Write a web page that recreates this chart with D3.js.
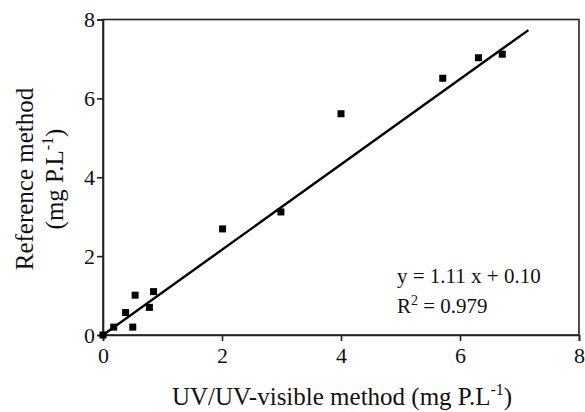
<!DOCTYPE html>
<html><head><meta charset="utf-8">
<script src="https://cdn.jsdelivr.net/npm/d3@7"></script>
<style>body{margin:0;background:#fff}svg{display:block}text{font-family:"Liberation Serif","Times New Roman",serif;fill:#111}</style>
</head><body><svg width="585" height="412"></svg>
<script>
const xValues = [0, 0.18, 0.38, 0.50, 0.54, 0.78, 0.85, 2.01, 2.99, 4.0, 5.71, 6.31, 6.71];
const yValues = [0, 0.20, 0.57, 0.20, 1.01, 0.70, 1.10, 2.69, 3.12, 5.61, 6.51, 7.03, 7.12];
const lineX = [0, 7.15];
const lineY = [0, 7.73];
const xTicks = [0, 2, 4, 6, 8];
const yTicks = [0, 2, 4, 6, 8];

const svg = d3.select("svg");
const x = d3.scaleLinear().domain([0, 8]).range([103, 579]);
const y = d3.scaleLinear().domain([0, 8]).range([335, 19.5]);

svg.append("rect").attr("x", x(0)).attr("y", y(8)).attr("width", x(8)-x(0)).attr("height", y(0)-y(8))
  .attr("fill", "none").attr("stroke", "#222").attr("stroke-width", 1.6);

const xa = svg.append("g").attr("transform", `translate(0,${y(0)})`)
  .call(d3.axisBottom(x).tickValues(xTicks).tickFormat(d3.format("d")).tickSize(6).tickPadding(6));
const ya = svg.append("g").attr("transform", `translate(${x(0)},0)`)
  .call(d3.axisLeft(y).tickValues(yTicks).tickFormat(d3.format("d")).tickSize(6).tickPadding(2));
[xa, ya].forEach(a => {
  a.select(".domain").attr("stroke", "#222").attr("stroke-width", 1.6);
  a.selectAll(".tick line").attr("stroke", "#222").attr("stroke-width", 1.6);
  a.selectAll("text").style("font-family", '"Liberation Serif",serif').style("font-size", "22px").attr("fill", "#111");
});

svg.append("line").attr("x1", x(lineX[0])).attr("y1", y(lineY[0])).attr("x2", x(lineX[1])).attr("y2", y(lineY[1]))
  .attr("stroke", "#000").attr("stroke-width", 2.4);

svg.selectAll("rect.pt").data(xValues.map((v,i)=>[v,yValues[i]])).enter().append("rect").attr("class","pt")
  .attr("x", d => x(d[0]) - 3.5).attr("y", d => y(d[1]) - 3.5).attr("width", 7).attr("height", 7).attr("fill", "#000");

svg.append("text").attr("x", 397).attr("y", 283).style("font-size", "21px").text("y = 1.11 x + 0.10");
const r2 = svg.append("text").attr("x", 397).attr("y", 313).style("font-size", "21px");
r2.append("tspan").text("R");
r2.append("tspan").attr("dy", -8).style("font-size", "14px").text("2");
r2.append("tspan").attr("dy", 8).text(" = 0.979");

const xl = svg.append("text").attr("x", 172).attr("y", 405).attr("text-anchor", "start").style("font-size", "25px");
xl.append("tspan").text("UV/UV-visible method (mg P.L");
xl.append("tspan").attr("dy", -10).style("font-size", "16px").text("-1");
xl.append("tspan").attr("dy", 10).text(")");

svg.append("text").attr("transform", "translate(33,179) rotate(-90)").attr("text-anchor", "middle").style("font-size", "25px").text("Reference method");
const yl2 = svg.append("text").attr("transform", "translate(63,179) rotate(-90)").attr("text-anchor", "middle").style("font-size", "25px");
yl2.append("tspan").text("(mg P.L");
yl2.append("tspan").attr("dy", -10).style("font-size", "16px").text("-1");
yl2.append("tspan").attr("dy", 10).text(")");
</script></body></html>
